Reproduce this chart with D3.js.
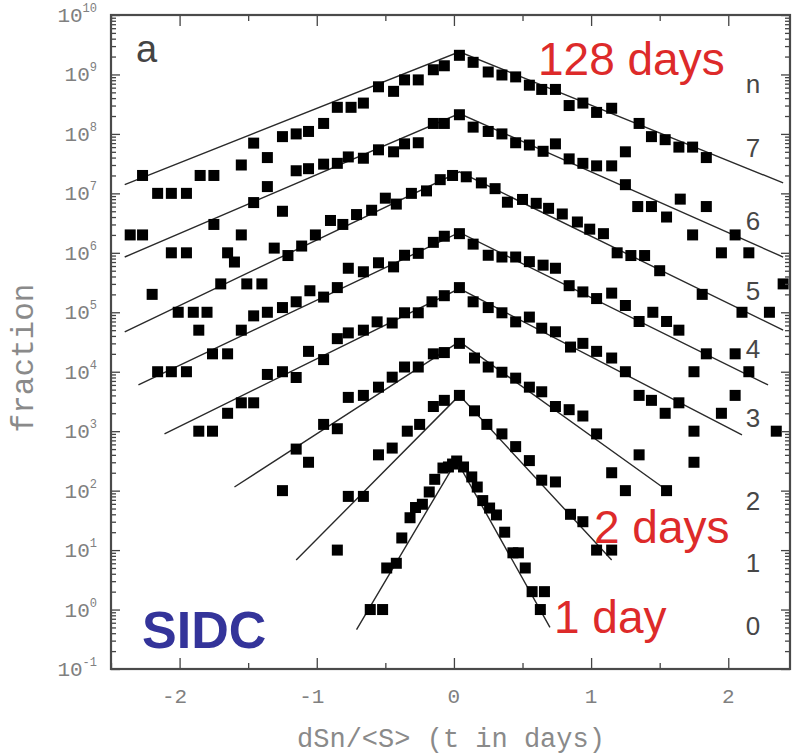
<!DOCTYPE html>
<html>
<head>
<meta charset="utf-8">
<script src="https://cdn.jsdelivr.net/npm/d3@7"></script>
<style>
body { margin: 0; background: #fff; }
svg text { font-family: "Liberation Mono", monospace; }
</style>
</head>
<body>
<svg id="chart" width="798" height="755"></svg>
<script>
// points of each series, [dSn/<S>, fraction]; n = 0 is 1 day, n = 7 is 128 days
var s0 = [[-0.61,1],[-0.52,1],[-0.49,5],[-0.42,6],[-0.38,16],[-0.32,35],[-0.28,52],[-0.23,59],
	[-0.18,95],[-0.14,155],[-0.08,240],[-0.04,250],[-0.01,280],[0.02,315],[0.07,250],[0.13,170],
	[0.17,115],[0.21,68],[0.26,51],[0.31,39],[0.37,20],[0.43,9],[0.47,9],[0.52,5],[0.57,2],
	[0.66,2],[0.63,1]];
var s1 = [[-0.85,10],[-0.77,80],[-0.66,80],[-0.55,400],[-0.45,520],[-0.34,1000],[-0.25,1300],
	[-0.15,2600],[-0.07,3300],[0.04,4000],[0.15,2200],[0.24,1300],[0.35,900],[0.45,550],
	[0.55,320],[0.64,150],[0.74,140],[0.85,40],[0.94,30],[1.04,10],[1.15,10]];
var s2 = [[-1.25,100],[-1.15,500],[-1.06,300],[-0.95,1300],[-0.85,1100],[-0.77,3700],[-0.66,4000],
	[-0.55,5500],[-0.45,8100],[-0.36,1.2e4],[-0.26,1.2e4],[-0.15,2e4],[-0.07,2.1e4],[0.04,3e4],
	[0.15,1.7e4],[0.25,1.2e4],[0.35,9800],[0.45,7800],[0.55,5500],[0.64,4600],[0.74,2600],
	[0.84,2300],[0.94,1800],[1.04,900],[1.15,200],[1.25,100],[1.35,400],[1.55,100],[1.75,300]];
var s3 = [[-1.86,1e3],[-1.76,1e3],[-1.65,2e3],[-1.55,3e3],[-1.46,3e3],[-1.36,9e3],[-1.25,1e4],
	[-1.15,8e3],[-1.06,2.2e4],[-0.95,1.6e4],[-0.85,3.6e4],[-0.77,4.5e4],[-0.66,5e4],[-0.56,6.9e4],
	[-0.45,6.6e4],[-0.36,9.8e4],[-0.26,9.8e4],[-0.16,1.5e5],[-0.07,1.9e5],[0.04,2.6e5],[0.14,1.5e5],
	[0.25,1.2e5],[0.35,9.8e4],[0.45,6.9e4],[0.55,8.3e4],[0.64,5.4e4],[0.74,4.7e4],[0.85,2.6e4],
	[0.94,3e4],[1.04,2.2e4],[1.15,1.7e4],[1.25,1e4],[1.35,4e3],[1.44,3.3e3],[1.54,2e3],[1.64,3e3],
	[1.75,1e3],[1.95,2e3],[2.05,4e3],[2.35,1e3]];
var s4 = [[-2.16,1e4],[-2.06,1e4],[-1.95,1e4],[-1.86,5e4],[-1.76,2e4],[-1.65,2e4],[-1.55,5e4],
	[-1.46,8.7e4],[-1.36,1e5],[-1.25,1.2e5],[-1.15,1.5e5],[-1.05,2.3e5],[-0.95,1.8e5],[-0.85,2.6e5],
	[-0.77,5.5e5],[-0.66,4.8e5],[-0.55,6.8e5],[-0.44,5.8e5],[-0.36,9.1e5],[-0.26,9.8e5],[-0.15,1.5e6],
	[-0.07,1.9e6],[0.04,2.1e6],[0.14,1.4e6],[0.25,9.1e5],[0.35,8.5e5],[0.45,8.5e5],[0.55,7.1e5],
	[0.65,6.2e5],[0.74,5.5e5],[0.84,2.8e5],[0.94,2.2e5],[1.04,1.7e5],[1.15,2.1e5],[1.25,1.3e5],
	[1.35,7e4],[1.45,1e5],[1.55,7e4],[1.64,5e4],[1.75,1e4],[1.84,2e4],[2.05,2e4],[2.15,1e4]];
var s5 = [[-2.20,2e5],[-2.01,1e5],[-1.90,1e5],[-1.80,1e5],[-1.70,3e5],[-1.60,7e5],[-1.51,3e5],
	[-1.40,3e5],[-1.31,1.2e6],[-1.21,9e5],[-1.11,1.3e6],[-1.01,2e6],[-0.90,3.5e6],[-0.81,3e6],
	[-0.71,4.4e6],[-0.60,5.2e6],[-0.50,8.3e6],[-0.42,6.6e6],[-0.31,1e7],[-0.20,1.1e7],[-0.10,1.7e7],
	[-0.01,2e7],[0.09,1.9e7],[0.20,1.5e7],[0.30,1.2e7],[0.39,7.1e6],[0.50,7.9e6],[0.60,6.8e6],
	[0.69,5.6e6],[0.79,4.5e6],[0.90,3.3e6],[0.99,2.5e6],[1.09,2.1e6],[1.19,1e6],[1.29,9e5],
	[1.39,9e5],[1.50,5e5],[1.81,2e5],[2.10,1e5],[2.30,1e5],[2.40,3e5]];
var s6 = [[-2.36,2e6],[-2.27,2e6],[-2.06,1e6],[-1.95,1e6],[-1.75,3e6],[-1.65,1e6],[-1.55,2e6],
	[-1.46,7e6],[-1.36,1.3e7],[-1.25,5e6],[-1.15,2.4e7],[-1.06,2.6e7],[-0.95,3.1e7],[-0.85,3.2e7],
	[-0.77,4.1e7],[-0.66,3.9e7],[-0.55,5.4e7],[-0.44,5e7],[-0.36,6.8e7],[-0.26,7.1e7],[-0.15,1.5e8],
	[-0.07,1.5e8],[0.04,2.1e8],[0.14,1.3e8],[0.25,1.1e8],[0.35,1e8],[0.45,7.1e7],[0.55,6.5e7],
	[0.65,5.1e7],[0.74,6.8e7],[0.84,3.8e7],[0.94,3.2e7],[1.04,2.9e7],[1.15,2.9e7],[1.25,5e7],
	[1.25,1.4e7],[1.34,6e6],[1.44,6e6],[1.55,4e6],[1.65,8e6],[1.74,2e6],[1.84,6e6],[1.95,1e6],
	[2.05,2e6],[2.15,1e6]];
var s7 = [[-2.27,2e7],[-2.16,1e7],[-2.06,1e7],[-1.95,1e7],[-1.85,2e7],[-1.75,2e7],[-1.55,3e7],
	[-1.46,7e7],[-1.36,4e7],[-1.25,9e7],[-1.15,1e8],[-1.06,1.1e8],[-0.95,1.5e8],[-0.85,2.8e8],
	[-0.75,2.8e8],[-0.66,3.3e8],[-0.55,6.2e8],[-0.44,5.2e8],[-0.36,8.1e8],[-0.26,8.1e8],[-0.15,1.2e9],
	[-0.07,1.4e9],[0.04,2.1e9],[0.14,1.6e9],[0.25,1.1e9],[0.35,9.8e8],[0.45,9.1e8],[0.55,6.6e8],
	[0.64,5.6e8],[0.74,5.6e8],[0.84,3e8],[0.94,3.3e8],[1.04,2.3e8],[1.15,2.7e8],[1.35,1.5e8],
	[1.44,9e7],[1.54,8e7],[1.64,6e7],[1.74,6e7],[1.84,4e7]];
var allSeries = [s0, s1, s2, s3, s4, s5, s6, s7];

// fitted lines: left end, peak, right end
var fits = [
	[[-0.71,0.46],[0.02,320],[0.70,0.5]],
	[[-1.15,6.8],[0.04,4000],[1.15,6.8]],
	[[-1.60,115],[0.04,3.2e4],[1.57,95]],
	[[-2.11,900],[0.04,2.5e5],[2.10,870]],
	[[-2.30,6000],[0.04,2.2e6],[2.29,6000]],
	[[-2.40,4.7e4],[0.04,2.3e7],[2.40,5e4]],
	[[-2.40,8.5e5],[0.04,2.2e8],[2.40,8.5e5]],
	[[-2.40,1.4e7],[0.04,2.4e9],[2.40,1.5e7]]
];

var tagNames = ["0","1","2","3","4","5","6","7","n"];
var tagLevels = [0.37, 4.3, 47, 1175, 1.7e4, 1.62e5, 2.4e6, 4.1e7, 4.9e8];
var tagX = 2.18;

var xTicks = [-2, -1, 0, 1, 2];
var xMinor = [-2.5, -1.5, -0.5, 0.5, 1.5];
var yExps = d3.range(-1, 11);

var margin = {top: 15, right: 8, bottom: 86, left: 111},
	width = 798 - margin.left - margin.right,
	height = 755 - margin.top - margin.bottom;

var x = d3.scaleLinear().domain([-2.5, 2.45]).range([0, width]);
var y = d3.scaleLog().domain([0.1, 1e10]).range([height, 0]);

var svg = d3.select("#chart");
var g = svg.append("g").attr("transform", "translate(" + margin.left + "," + margin.top + ")");

// fit lines
var line = d3.line().x(d => x(d[0])).y(d => y(d[1]));
g.selectAll(".fit").data(fits).enter().append("path")
	.attr("class", "fit")
	.attr("d", line)
	.attr("fill", "none")
	.attr("stroke", "#2a2a2a")
	.attr("stroke-width", 1.4);

// squares
var sq = 11;
g.selectAll(".ser").data(allSeries).enter().append("g")
	.attr("class", "ser")
	.selectAll("rect").data(d => d).enter().append("rect")
	.attr("x", d => x(d[0]) - sq / 2)
	.attr("y", d => y(d[1]) - sq / 2)
	.attr("width", sq)
	.attr("height", sq)
	.attr("fill", "#000");

// minor log ticks
var yMinor = [];
yExps.forEach(function(e) {
	if (e >= 10) return;
	for (var k = 2; k <= 9; k++) yMinor.push(k * Math.pow(10, e));
});
var yMajor = yExps.map(e => Math.pow(10, e));

function styleAxis(sel) {
	sel.select(".domain").remove();
	sel.selectAll("line").attr("stroke", "#444").attr("stroke-width", 1.3);
}

g.append("g").call(d3.axisLeft(y).tickValues(yMinor).tickSize(-5).tickFormat("")).call(styleAxis);
g.append("g").call(d3.axisLeft(y).tickValues(yMajor).tickSize(-9).tickFormat("")).call(styleAxis);
g.append("g").attr("transform", "translate(" + width + ",0)")
	.call(d3.axisRight(y).tickValues(yMinor).tickSize(-5).tickFormat("")).call(styleAxis);
g.append("g").attr("transform", "translate(" + width + ",0)")
	.call(d3.axisRight(y).tickValues(yMajor).tickSize(-9).tickFormat("")).call(styleAxis);

g.append("g").attr("transform", "translate(0," + height + ")")
	.call(d3.axisBottom(x).tickValues(xTicks).tickSize(-11).tickFormat("")).call(styleAxis);
g.append("g").attr("transform", "translate(0," + height + ")")
	.call(d3.axisBottom(x).tickValues(xMinor).tickSize(-6).tickFormat("")).call(styleAxis);
g.append("g")
	.call(d3.axisTop(x).tickValues(xTicks).tickSize(-11).tickFormat("")).call(styleAxis);
g.append("g")
	.call(d3.axisTop(x).tickValues(xMinor).tickSize(-6).tickFormat("")).call(styleAxis);

// frame
g.append("rect")
	.attr("width", width).attr("height", height)
	.attr("fill", "none").attr("stroke", "#4a4a4a").attr("stroke-width", 2.2);

// y tick labels 10^e
var ylab = g.selectAll(".ylab").data(yExps).enter().append("text")
	.attr("class", "ylab")
	.attr("x", -14)
	.attr("y", e => y(Math.pow(10, e)) + 7)
	.attr("text-anchor", "end")
	.attr("fill", "#808080")
	.style("font-size", "21px");
ylab.append("tspan").text("10");
ylab.append("tspan").attr("dy", -10).style("font-size", "12px").text(e => e);

// x tick labels
g.selectAll(".xlab").data(xTicks).enter().append("text")
	.attr("class", "xlab")
	.attr("x", d => x(d) - (d < 0 ? 5 : 0))
	.attr("y", height + 34)
	.attr("text-anchor", "middle")
	.attr("fill", "#808080")
	.style("font-size", "21px")
	.text(d => d < 0 ? "-" + Math.abs(d) : d);

// axis titles
svg.append("text")
	.attr("x", 451).attr("y", 747)
	.attr("text-anchor", "middle")
	.attr("fill", "#8a8a8a")
	.style("font-size", "27px")
	.text("dSn/<S> (t in days)");

svg.append("text")
	.attr("transform", "translate(33,358) rotate(-90)")
	.attr("text-anchor", "middle")
	.attr("fill", "#8a8a8a")
	.style("font-size", "31px")
	.text("fraction");

// series tags on the right
g.selectAll(".tag").data(tagNames).enter().append("text")
	.attr("class", "tag")
	.attr("x", x(tagX))
	.attr("y", (d, i) => y(tagLevels[i]))
	.attr("text-anchor", "middle")
	.attr("fill", "#474747")
	.style("font-family", (d) => d == "n" ? "Liberation Mono" : "Liberation Sans")
	.style("font-size", "26px")
	.text(d => d);

// annotations
function note(txt, px, py, size, color, weight) {
	svg.append("text")
		.attr("x", px).attr("y", py)
		.attr("fill", color)
		.style("font-family", "Liberation Sans, Arial, sans-serif")
		.style("font-size", size + "px")
		.style("font-weight", weight || "normal")
		.text(txt);
}
note("a", 136, 62, 38, "#444");
note("128 days", 538, 75, 46, "#dd2a2a");
note("2 days", 594, 543, 46, "#dd2a2a");
note("1 day", 554, 633, 46, "#dd2a2a");
note("SIDC", 142, 648, 52, "#34349a", "bold");
</script>
</body>
</html>
